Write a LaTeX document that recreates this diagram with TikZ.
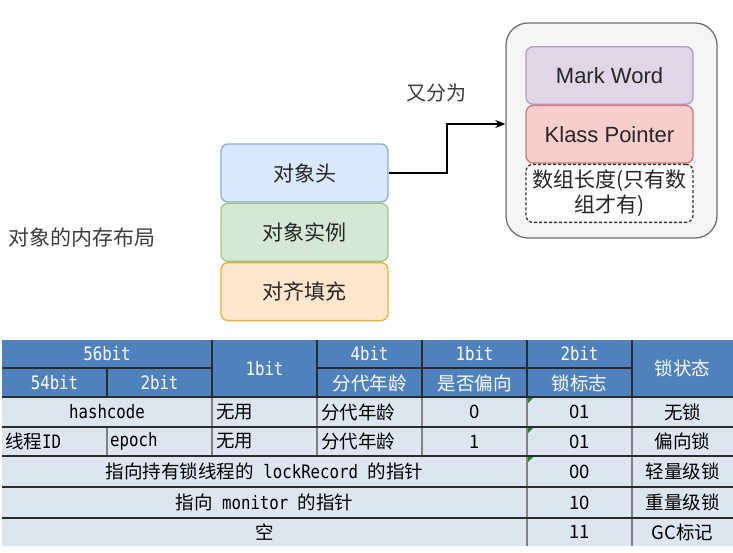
\documentclass[tikz,border=0pt]{standalone}
\usepackage{fontspec}
\usepackage{tikz}
\usetikzlibrary{arrows.meta,positioning}
\newfontfamily\cjkfont{Noto Sans CJK SC}
\newfontfamily\arialfont{Liberation Sans}
\newfontfamily\codefont[FakeStretch=0.85]{DejaVu Sans Mono}
\definecolor{FigureInk}{HTML}{262626}
\definecolor{HeadFill}{HTML}{DAE8FC}
\definecolor{HeadLine}{HTML}{8FAADC}
\definecolor{InstFill}{HTML}{D5E8D4}
\definecolor{InstLine}{HTML}{9DC58A}
\definecolor{PadFill}{HTML}{FFE6CC}
\definecolor{PadLine}{HTML}{E3B341}
\definecolor{MarkFill}{HTML}{E1D5E7}
\definecolor{MarkLine}{HTML}{B39BC4}
\definecolor{KlassFill}{HTML}{F8CECC}
\definecolor{KlassLine}{HTML}{D07A77}
\definecolor{GroupFill}{HTML}{F5F5F5}
\definecolor{GroupLine}{HTML}{707070}
\definecolor{TableHead}{HTML}{4F81BD}
\definecolor{TableBody}{HTML}{DCE6F1}
\definecolor{TableRule}{HTML}{2B2B2B}
\definecolor{TableDivide}{HTML}{808080}
\definecolor{NoteGreen}{HTML}{1E8C2E}
\newcommand{\CodeText}[1]{{\codefont\fontsize{18.5}{22}\selectfont #1}}
\tikzset{
  figure/.style={x=1pt,y=-1pt,text=FigureInk},
  layer/.style 2 args={draw=#2,fill=#1,line width=1.3pt,rounded corners=7pt,
    minimum width=167pt,minimum height=58pt,font=\cjkfont\fontsize{21}{25}\selectfont},
  field/.style 2 args={draw=#2,fill=#1,line width=1.3pt,rounded corners=7pt,
    minimum width=167pt,minimum height=57.5pt,font=\arialfont\fontsize{22}{26}\selectfont},
  group/.style={draw=GroupLine,fill=GroupFill,line width=1.3pt,rounded corners=22pt,
    minimum width=211pt,minimum height=215pt},
  note/.style={font=\cjkfont\fontsize{21}{25}\selectfont,text=FigureInk!90},
  flow/.style={-{Stealth[length=10pt,width=8pt,inset=3pt]},line width=1.3pt,draw=black},
  headtext/.style={text=white,font=\cjkfont\fontsize{18.5}{22}\selectfont,inner sep=0pt},
  celltext/.style={text=black,font=\cjkfont\fontsize{18.5}{22}\selectfont,inner sep=0pt},
  rule/.style={draw=TableRule,line width=1.2pt},
  divide/.style={draw=TableDivide,line width=1.6pt},
}
\begin{document}
\begin{tikzpicture}[figure]
  \useasboundingbox (0,0) rectangle (733,552);

  \node[layer={HeadFill}{HeadLine}] (header) at (304.5,173) {对象头};
  \node[layer={InstFill}{InstLine},below=0pt of header] (instance) {对象实例};
  \node[layer={PadFill}{PadLine},below=0pt of instance] (padding) {对齐填充};
  \node[note] (layout) at (82,237) {对象的内存布局};

  \node[group] (objheader) at (611.5,130.5) {};
  \node[field={MarkFill}{MarkLine}] (markword) at (609.5,75.5) {Mark Word};
  \node[field={KlassFill}{KlassLine},below=0pt of markword] (klass) {Klass Pointer};
  \node[draw=black!80,fill=white,dash pattern=on 3pt off 2pt,line width=1.3pt,rounded corners=7pt,
        minimum width=167pt,minimum height=58pt,align=center,inner sep=0pt,
        font=\cjkfont\fontsize{21}{25}\selectfont,below=0pt of klass] (arraylen)
    {数组长度(只有数\\组才有)};

  \coordinate (bend) at (447,124);
  \draw[flow] (header.east) -- (header.east -| bend) |- ([yshift=6.5pt]objheader.west);
  \node[note,font=\cjkfont\fontsize{20}{24}\selectfont] (split) at (436,93) {又分为};

  \fill[TableHead] (2,340) rectangle (733,397);
  \fill[TableBody] (2,397) rectangle (733,546);
  \draw[rule] (2,368) -- (212,368) (317,368) -- (632,368);
  \draw[rule] (107,368) -- (107,397);
  \foreach \x in {212,317,422,527,632} \draw[rule] (\x,340) -- (\x,397);
  \draw[divide] (107,427) -- (107,456);
  \foreach \x in {212,317,422} \draw[divide] (\x,397) -- (\x,456);
  \foreach \x in {527,632} \draw[divide] (\x,397) -- (\x,546);
  \foreach \y in {397,427,456,487,518} \draw[rule] (2,\y) -- (733,\y);
  \foreach \y in {397,427,456} \fill[NoteGreen] (528,\y+1) -- ++(5,0) -- ++(-5,5) -- cycle;

  \node[headtext] (bits56) at (107,354) {\CodeText{56bit}};
  \node[headtext] (bits1a) at (264.5,368.5) {\CodeText{1bit}};
  \node[headtext] (bits4) at (369.5,354) {\CodeText{4bit}};
  \node[headtext] (bits1b) at (474.5,354) {\CodeText{1bit}};
  \node[headtext] (bits2) at (579.5,354) {\CodeText{2bit}};
  \node[headtext] (state) at (682.5,368.5) {锁状态};
  \node[headtext] (bits54) at (54.5,383) {\CodeText{54bit}};
  \node[headtext] (bits2a) at (159.5,383) {\CodeText{2bit}};
  \node[headtext] (agehead) at (369.5,383) {分代年龄};
  \node[headtext] (biashead) at (474.5,383) {是否偏向};
  \node[headtext] (flaghead) at (579.5,383) {锁标志};

  \node[celltext] (hash) at (107,412) {\CodeText{hashcode}};
  \node[celltext,anchor=west] (unused1) at (216,412) {无用};
  \node[celltext,anchor=west] (age1) at (321,412) {分代年龄};
  \node[celltext] (bias0) at (474.5,412) {0};
  \node[celltext] (flag1) at (579.5,412) {01};
  \node[celltext] (nolock) at (682.5,412) {无锁};

  \node[celltext,anchor=west] (thread) at (5,441.5) {线程\CodeText{ID}};
  \node[celltext,anchor=west] (epoch) at (110,441.5) {\CodeText{epoch}};
  \node[celltext,anchor=west] (unused2) at (216,441.5) {无用};
  \node[celltext,anchor=west] (age2) at (321,441.5) {分代年龄};
  \node[celltext] (bias1) at (474.5,441.5) {1};
  \node[celltext] (flag2) at (579.5,441.5) {01};
  \node[celltext] (biased) at (682.5,441.5) {偏向锁};

  \node[celltext] (lockrec) at (264.5,471.5) {指向持有锁线程的\CodeText{ lockRecord }的指针};
  \node[celltext] (flag3) at (579.5,471.5) {00};
  \node[celltext] (light) at (682.5,471.5) {轻量级锁};

  \node[celltext] (monitor) at (264.5,502.5) {指向\CodeText{ monitor }的指针};
  \node[celltext] (flag4) at (579.5,502.5) {10};
  \node[celltext] (heavy) at (682.5,502.5) {重量级锁};

  \node[celltext] (empty) at (264.5,532) {空};
  \node[celltext] (flag5) at (579.5,532) {11};
  \node[celltext] (gcmark) at (682.5,532) {GC标记};
\end{tikzpicture}
\end{document}
